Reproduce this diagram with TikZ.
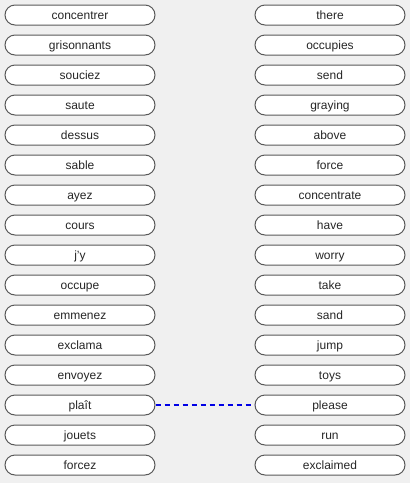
\documentclass[tikz,border=0pt]{standalone}
\usepackage{fontspec}
\setmainfont{Liberation Sans}
\begin{document}
\begin{tikzpicture}[x=1pt,y=-1pt,
  word/.style={draw=black!65, fill=white, line width=1pt, rounded corners=10pt,
    minimum width=150pt, minimum height=20pt, inner sep=0pt,
    text height=9.8pt, text depth=1.6pt,
    font=\fontsize{12pt}{14pt}\selectfont, text=black!85},
  link/.style={draw=blue!90!black, line width=2pt, dash pattern=on 5pt off 4pt}]
\fill[gray!12] (0,0) rectangle (410,483);
\useasboundingbox (0,0) rectangle (410,483);
\foreach \w [count=\i] in {concentrer,grisonnants,souciez,saute,dessus,sable,ayez,cours,j'y,occupe,emmenez,exclama,envoyez,plaît,jouets,forcez}
  \node[word] (l\i) at (80,{15+30*(\i-1)}) {\w};
\foreach \w [count=\i] in {there,occupies,send,graying,above,force,concentrate,have,worry,take,sand,jump,toys,please,run,exclaimed}
  \node[word] (r\i) at (330,{15+30*(\i-1)}) {\w};
\draw[link] (l14.east) -- (r14.west);
\end{tikzpicture}
\end{document}
